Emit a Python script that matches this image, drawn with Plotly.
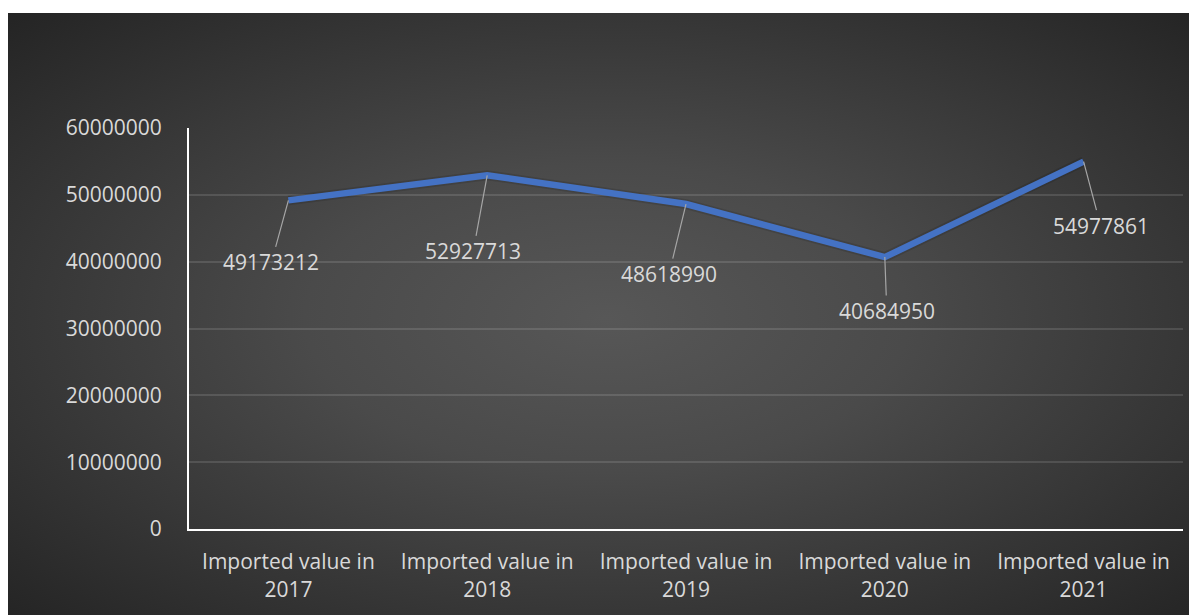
import base64
import plotly.graph_objects as go

categories = ["Imported value in<br>2017", "Imported value in<br>2018", "Imported value in<br>2019",
              "Imported value in<br>2020", "Imported value in<br>2021"]
values = [49173212, 52927713, 48618990, 40684950, 54977861]
label_texts = ["49173212", "52927713", "48618990", "40684950", "54977861"]

# label offsets (pixels) - styling only
label_dx = [-17, -14, -17, 2, 17]
label_dy = [62, 76, 70, 54, 64]

W, H = 1197, 615
L, R, T, B = 181, 22, 120, 94
pw, ph = W - L - R, H - T - B
BG_TOP = 5

svg = '''<svg xmlns="http://www.w3.org/2000/svg" width="1197" height="610" viewBox="0 0 1197 610" preserveAspectRatio="none">
<defs><radialGradient id="g" cx="50%" cy="50%" r="72%" fx="50%" fy="50%">
<stop offset="0%" stop-color="#575757"/><stop offset="35%" stop-color="#4a4a4a"/><stop offset="100%" stop-color="#232323"/>
</radialGradient></defs>
<rect x="0" y="0" width="1197" height="610" fill="url(#g)"/></svg>'''
src = "data:image/svg+xml;base64," + base64.b64encode(svg.encode()).decode()

fig = go.Figure()
fig.add_trace(go.Scatter(x=categories, y=values, mode="lines",
                         line=dict(color="rgba(0,0,0,0.12)", width=10),
                         hoverinfo="skip", showlegend=False))
fig.add_trace(go.Scatter(x=categories, y=values, mode="lines",
                         line=dict(color="#4472C4", width=6.5),
                         showlegend=False))

for c, v, t, dx, dy in zip(categories, values, label_texts, label_dx, label_dy):
    fig.add_annotation(x=c, y=v, text=t, showarrow=True, arrowhead=0, arrowwidth=1.2,
                       arrowcolor="#A6A6A6", ax=dx, ay=dy, standoff=0,
                       font=dict(family="Open Sans", size=21, color="#D9D9D9"))

fig.add_layout_image(dict(source=src, xref="paper", yref="paper",
                          x=(0 - L) / pw, y=(H - B - BG_TOP) / ph,
                          sizex=W / pw, sizey=(H - BG_TOP) / ph,
                          xanchor="left", yanchor="top", sizing="stretch", layer="below"))

fig.update_layout(
    width=W, height=H,
    margin=dict(l=L, r=R, t=T, b=B),
    paper_bgcolor="white", plot_bgcolor="rgba(0,0,0,0)",
    font=dict(family="Open Sans", size=21, color="#D9D9D9"),
    xaxis=dict(type="category", range=[-0.5, 4.5], showgrid=False,
               showline=True, linecolor="white", linewidth=2,
               ticks="", ticklabelstandoff=13,
               tickfont=dict(family="Open Sans", size=21, color="#D9D9D9")),
    yaxis=dict(range=[0, 60000000], dtick=10000000, tickformat="d",
               showgrid=True, gridcolor="rgba(255,255,255,0.12)", gridwidth=1.5,
               showline=True, linecolor="white", linewidth=2, zeroline=False,
               ticks="", ticklabelstandoff=21,
               tickfont=dict(family="Open Sans", size=21, color="#D9D9D9")),
)

fig.write_html("out.html")
